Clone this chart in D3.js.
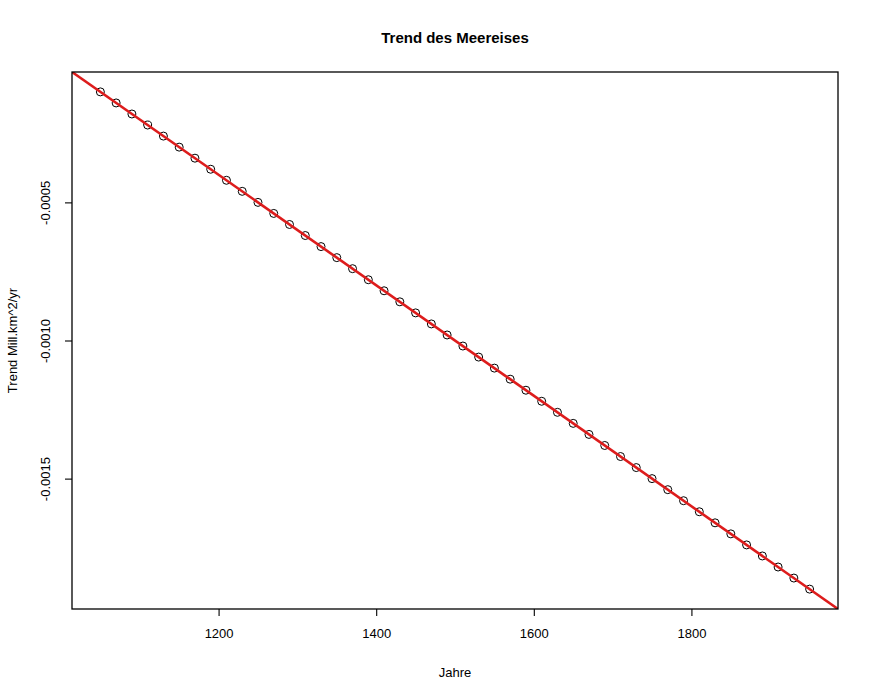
<!DOCTYPE html>
<html>
<head>
<meta charset="utf-8">
<style>
  body { margin: 0; background: #fff; }
  text { font-family: "Liberation Sans", Arial, Helvetica, sans-serif; fill: #000; }
</style>
</head>
<body>
<div class="container"></div>
<script src="https://d3js.org/d3.v7.min.js"></script>
<script>
  // Jahre und Trendwerte
  var years = [1050, 1070, 1090, 1110, 1130, 1150, 1170, 1190, 1210, 1230,
               1250, 1270, 1290, 1310, 1330, 1350, 1370, 1390, 1410, 1430,
               1450, 1470, 1490, 1510, 1530, 1550, 1570, 1590, 1610, 1630,
               1650, 1670, 1690, 1710, 1730, 1750, 1770, 1790, 1810, 1830,
               1850, 1870, 1890, 1910, 1930, 1950];
  var trend = [-0.00010, -0.00014, -0.00018, -0.00022, -0.00026, -0.00030, -0.00034, -0.00038, -0.00042, -0.00046,
               -0.00050, -0.00054, -0.00058, -0.00062, -0.00066, -0.00070, -0.00074, -0.00078, -0.00082, -0.00086,
               -0.00090, -0.00094, -0.00098, -0.00102, -0.00106, -0.00110, -0.00114, -0.00118, -0.00122, -0.00126,
               -0.00130, -0.00134, -0.00138, -0.00142, -0.00146, -0.00150, -0.00154, -0.00158, -0.00162, -0.00166,
               -0.00170, -0.00174, -0.00178, -0.00182, -0.00186, -0.00190];
  var xTicks = [1200, 1400, 1600, 1800];
  var yTicks = [-0.0005, -0.0010, -0.0015];
  // Regressionsgerade (abline): Endpunkte
  var fitYears = [1000, 2000];
  var fitTrend = [0, -0.002];

  var W = 875, H = 700,
      pLeft = 72, pTop = 72, pRight = 838, pBottom = 609;

  var svg = d3.select('.container').append('svg')
      .attr('width', W).attr('height', H);

  // R-artige Achsenerweiterung um 4 %
  var xe = d3.extent(years), ye = d3.extent(trend);
  var xp = (xe[1] - xe[0]) * 0.04, yp = (ye[1] - ye[0]) * 0.04;
  var x = d3.scaleLinear().domain([xe[0] - xp, xe[1] + xp]).range([pLeft, pRight]);
  var y = d3.scaleLinear().domain([ye[0] - yp, ye[1] + yp]).range([pBottom, pTop]);

  svg.append('defs').append('clipPath').attr('id', 'clip')
    .append('rect').attr('x', pLeft).attr('y', pTop)
    .attr('width', pRight - pLeft).attr('height', pBottom - pTop);

  // Punkte
  svg.append('g').selectAll('circle')
    .data(years)
    .enter().append('circle')
      .attr('cx', function(d) { return x(d); })
      .attr('cy', function(d, i) { return y(trend[i]); })
      .attr('r', 4)
      .attr('fill', 'none')
      .attr('stroke', '#000')
      .attr('stroke-width', 1);

  // rote Linie
  svg.append('line')
    .attr('clip-path', 'url(#clip)')
    .attr('x1', x(fitYears[0])).attr('y1', y(fitTrend[0]))
    .attr('x2', x(fitYears[1])).attr('y2', y(fitTrend[1]))
    .attr('stroke', '#dd1c1c')
    .attr('stroke-width', 2.6);

  // Rahmen
  svg.append('rect')
    .attr('x', pLeft).attr('y', pTop)
    .attr('width', pRight - pLeft).attr('height', pBottom - pTop)
    .attr('fill', 'none').attr('stroke', '#000').attr('stroke-width', 1.3);

  // x-Achse
  var xAxis = svg.append('g')
    .attr('transform', 'translate(0,' + pBottom + ')')
    .call(d3.axisBottom(x).tickValues(xTicks).tickSize(7).tickPadding(13)
      .tickFormat(d3.format('d')));
  xAxis.select('.domain').remove();
  xAxis.selectAll('line').attr('stroke-width', 1.1);
  xAxis.selectAll('text').attr('font-size', 13);

  // y-Achse
  var yAxis = svg.append('g')
    .attr('transform', 'translate(' + pLeft + ',0)')
    .call(d3.axisLeft(y).tickValues(yTicks).tickSize(7)
      .tickFormat(function(d) { return d3.format('.4f')(d).replace('\u2212', '-'); }));
  yAxis.select('.domain').remove();
  yAxis.selectAll('line').attr('stroke-width', 1.1);
  yAxis.selectAll('text')
    .attr('font-size', 13)
    .attr('x', 0).attr('y', 0).attr('dy', 0)
    .attr('text-anchor', 'middle')
    .attr('transform', 'translate(-22,0) rotate(-90)');

  // Titel und Beschriftungen
  svg.append('text')
    .attr('x', (pLeft + pRight) / 2).attr('y', 43)
    .attr('text-anchor', 'middle')
    .attr('font-size', 15).attr('font-weight', 'bold')
    .text('Trend des Meereises');

  svg.append('text')
    .attr('x', (pLeft + pRight) / 2).attr('y', 677)
    .attr('text-anchor', 'middle')
    .attr('font-size', 13)
    .text('Jahre');

  svg.append('text')
    .attr('transform', 'translate(17,' + (pTop + pBottom) / 2 + ') rotate(-90)')
    .attr('text-anchor', 'middle')
    .attr('font-size', 13)
    .text('Trend Mill.km^2/yr');
</script>
</body>
</html>
